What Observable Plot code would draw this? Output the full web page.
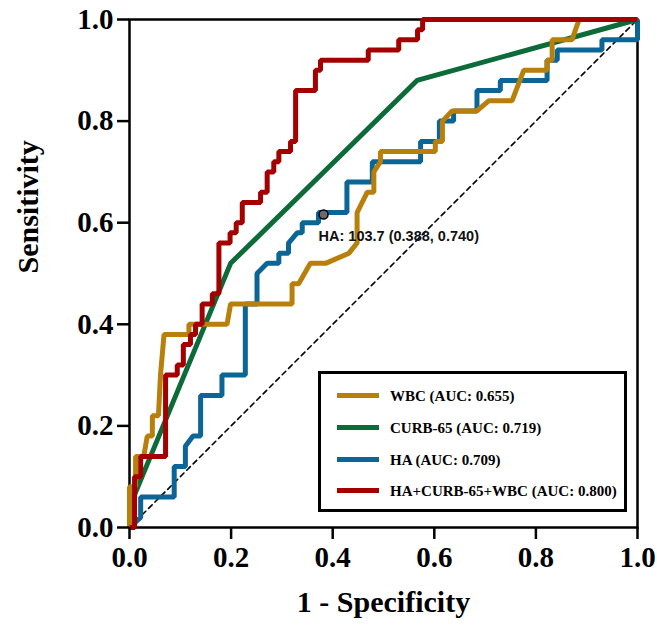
<!DOCTYPE html>
<html>
<head>
<meta charset="utf-8">
<script src="https://cdn.jsdelivr.net/npm/d3@7"></script>
<script src="https://cdn.jsdelivr.net/npm/@observablehq/plot@0.6"></script>
<style>
  html, body { margin: 0; padding: 0; background: #fff; }
  #wrap { position: relative; width: 657px; height: 628px; }
  #legend { position: absolute; left: 318px; top: 371px; width: 309px; height: 141px;
            border: 3px solid #000; box-sizing: border-box; background: #fff;
            font-family: 'Liberation Serif', 'Times New Roman', serif; font-weight: bold; font-size: 15px; }
  .item { position: absolute; left: 0; height: 20px; }
  .sw { position: absolute; left: 16px; width: 42px; height: 5px; }
  .lab { position: absolute; left: 69px; white-space: nowrap; line-height: 20px; }
</style>
</head>
<body>
<div id="wrap"></div>
<script>
// ---- data (1 - specificity, sensitivity) ----
const wbcX = [0,0,0.012,0.012,0.028,0.035,0.045,0.045,0.057,0.061,0.068,0.117,0.117,0.192,0.199,0.32,0.32,0.333,0.356,0.386,0.432,0.448,0.448,0.468,0.481,0.481,0.494,0.494,0.602,0.602,0.616,0.616,0.635,0.684,0.707,0.753,0.776,0.822,0.822,0.832,0.832,0.871,0.885,1];
const wbcY = [0,0.08,0.08,0.14,0.14,0.18,0.18,0.22,0.22,0.30,0.38,0.38,0.40,0.40,0.44,0.44,0.48,0.48,0.52,0.52,0.54,0.56,0.62,0.66,0.66,0.70,0.72,0.74,0.74,0.76,0.76,0.80,0.82,0.82,0.84,0.84,0.90,0.90,0.92,0.92,0.96,0.96,1.0,1.0];

const curbX = [0,0.004,0.199,0.566,1];
const curbY = [0,0.05,0.52,0.88,1];

const haX = [0,0.022,0.022,0.088,0.088,0.11,0.11,0.125,0.14,0.14,0.182,0.182,0.228,0.228,0.251,0.251,0.271,0.294,0.294,0.313,0.313,0.33,0.34,0.34,0.372,0.372,0.428,0.428,0.478,0.478,0.573,0.573,0.61,0.61,0.638,0.638,0.684,0.684,0.73,0.73,0.776,0.776,0.822,0.822,0.842,0.842,0.93,0.93,1,1];
const haY = [0,0.02,0.06,0.06,0.12,0.12,0.16,0.18,0.18,0.26,0.26,0.30,0.30,0.44,0.44,0.50,0.52,0.52,0.54,0.54,0.56,0.58,0.58,0.60,0.60,0.62,0.62,0.68,0.68,0.72,0.72,0.76,0.76,0.80,0.80,0.82,0.82,0.86,0.86,0.88,0.88,0.88,0.88,0.92,0.92,0.94,0.94,0.96,0.96,1.0];

const comboX = [0,0.01,0.01,0.022,0.022,0.071,0.071,0.094,0.094,0.106,0.106,0.12,0.12,0.13,0.13,0.143,0.143,0.163,0.163,0.176,0.176,0.198,0.198,0.21,0.21,0.222,0.222,0.258,0.258,0.271,0.271,0.284,0.284,0.294,0.294,0.317,0.317,0.327,0.327,0.366,0.366,0.376,0.376,0.47,0.47,0.53,0.53,0.567,0.567,0.577,0.577,1];
const comboY = [0,0,0.10,0.10,0.14,0.14,0.30,0.30,0.32,0.32,0.36,0.36,0.38,0.38,0.40,0.40,0.44,0.44,0.46,0.46,0.56,0.56,0.58,0.58,0.60,0.60,0.64,0.64,0.66,0.66,0.70,0.70,0.72,0.72,0.74,0.74,0.76,0.76,0.86,0.86,0.90,0.90,0.92,0.92,0.94,0.94,0.96,0.96,0.98,0.98,1.0,1.0];

const diagX = [0, 1];
const diagY = [0, 1];

const seriesNames = ["WBC (AUC: 0.655)", "CURB-65 (AUC: 0.719)", "HA (AUC: 0.709)", "HA+CURB-65+WBC (AUC: 0.800)"];
const seriesColors = ["#B8800A", "#0D6B3A", "#0B6595", "#A40000"];

const cutX = [0.382];
const cutY = [0.616];
const cutLabel = ["HA: 103.7 (0.388, 0.740)"];

const xTicks = [0, 0.2, 0.4, 0.6, 0.8, 1.0];
const yTicks = [0, 0.2, 0.4, 0.6, 0.8, 1.0];

// ---- build ----
const pts = (xs, ys) => xs.map((x, i) => ({x, y: ys[i]}));
const wbc = pts(wbcX, wbcY), curb = pts(curbX, curbY), ha = pts(haX, haY), combo = pts(comboX, comboY);
const diag = pts(diagX, diagY);
const cut = pts(cutX, cutY).map((d, i) => ({...d, label: cutLabel[i]}));

const serif = "'Liberation Serif', 'Times New Roman', serif";
const lineOpts = (c) => ({x: "x", y: "y", stroke: c, strokeWidth: 5, strokeLinejoin: "miter", strokeLinecap: "butt", curve: "linear"});

const chart = Plot.plot({
  width: 657, height: 628,
  marginLeft: 129, marginRight: 20, marginTop: 19, marginBottom: 101,
  x: {domain: [0, 1]},
  y: {domain: [0, 1]},
  style: {fontFamily: serif, background: "white", color: "black"},
  marks: [
    Plot.frame({strokeWidth: 2.5}),
    Plot.line(diag, {x: "x", y: "y", stroke: "black", strokeWidth: 1.6, strokeDasharray: "5,4"}),
    Plot.line(ha, lineOpts(seriesColors[2])),
    Plot.line(curb, lineOpts(seriesColors[1])),
    Plot.line(wbc, lineOpts(seriesColors[0])),
    Plot.line(combo, lineOpts(seriesColors[3])),
    Plot.axisX({ticks: xTicks, tickFormat: d3.format(".1f"), tickSize: 12, tickPadding: 7, strokeWidth: 2.5,
                fontSize: 29, fontWeight: "bold", fontFamily: serif, label: null}),
    Plot.axisY({ticks: yTicks, tickFormat: d3.format(".1f"), tickSize: 12, tickPadding: 4, strokeWidth: 2.5,
                fontSize: 29, fontWeight: "bold", fontFamily: serif, label: null}),
    Plot.text(["1 - Specificity"], {frameAnchor: "bottom", dy: 84, fontSize: 30, fontWeight: "bold", fontFamily: serif}),
    Plot.text(["Sensitivity"], {frameAnchor: "left", dx: -101, rotate: -90, fontSize: 30, fontWeight: "bold", fontFamily: serif}),
    Plot.dot(cut, {x: "x", y: "y", r: 4.5, fill: "#6a6a6a", stroke: "black", strokeWidth: 1.5}),
    Plot.text(cut, {x: "x", y: "y", text: "label", textAnchor: "start", dx: -5, dy: 22,
                    fontSize: 14.5, fontWeight: "bold", fontFamily: "'Liberation Sans', Arial, sans-serif", fill: "#111"})
  ]
});

const wrap = document.getElementById("wrap");
wrap.appendChild(chart);

// legend (inside plot area, like the reference)
const legend = document.createElement("div");
legend.id = "legend";
const rowTops = [12, 44, 76, 107];
seriesNames.forEach((name, i) => {
  const item = document.createElement("div");
  item.className = "item";
  item.style.top = rowTops[i] + "px";
  const sw = document.createElement("div");
  sw.className = "sw";
  sw.style.background = seriesColors[i];
  sw.style.top = "7px";
  const lab = document.createElement("div");
  lab.className = "lab";
  lab.textContent = name;
  item.appendChild(sw);
  item.appendChild(lab);
  legend.appendChild(item);
});
wrap.appendChild(legend);
</script>
</body>
</html>
